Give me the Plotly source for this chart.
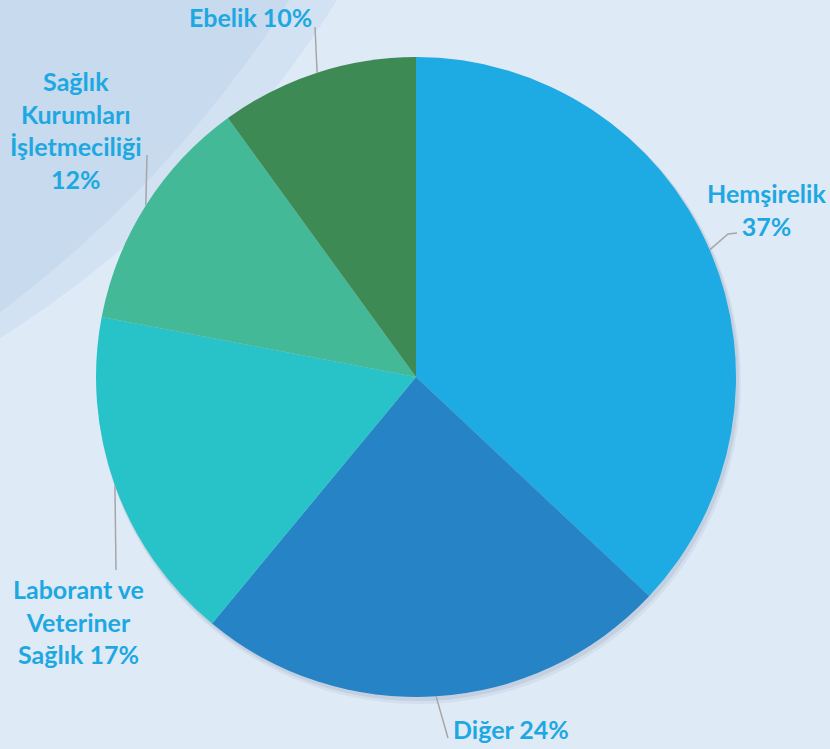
import math
import plotly.graph_objects as go

# Distribution of graduates by programme (percent)
categories = ["Hemşirelik", "Diğer", "Laborant ve Veteriner Sağlık",
              "Sağlık Kurumları İşletmeciliği", "Ebelik"]
shares = [37, 24, 17, 12, 10]
label_texts = ["Hemşirelik<br>37%", "Diğer 24%", "Laborant ve<br>Veteriner<br>Sağlık 17%",
               "Sağlık<br>Kurumları<br>İşletmeciliği<br>12%", "Ebelik 10%"]
slice_colors = ["#1eaae2", "#2683c6", "#27c3c9", "#44b997", "#3e8a54"]

# Canvas and pie geometry (pixels)
W, H = 830, 749
CX, CY, R = 416, 377, 320

# Label placement: text centre and leader-line outer points (pixels)
label_centres = [(766, 209), (511, 729), (78, 621), (76, 130), (250, 17)]
leader_tails = [[(728, 234), (737, 233)], [(448, 738)], [(116, 570)],
                [(147, 155)], [(315, 27)]]

TEXT_COLOR = "#1ea8e2"
LEADER_COLOR = "#a6a6a6"


def px(x):
    return x / W


def py(y):
    return 1 - y / H


def circle(a, b, r, **kw):
    return dict(type="circle", xref="paper", yref="paper",
                x0=px(a - r), x1=px(a + r), y0=py(b + r), y1=py(b - r),
                layer="below", **kw)


fig = go.Figure(go.Pie(
    labels=categories,
    values=shares,
    sort=False,
    direction="clockwise",
    rotation=0,
    marker=dict(colors=slice_colors, line=dict(width=0)),
    textinfo="none",
    hoverinfo="label+percent",
    showlegend=False,
    domain=dict(x=[px(CX - R), px(CX + R)], y=[py(CY + R), py(CY - R)]),
))

shapes = [
    # decorative swooshes in the upper-left corner
    circle(-576, -573, 1078, fillcolor="#d2e2f3", line=dict(width=0)),
    circle(-718, -643, 1195, fillcolor="#c7daee", line=dict(width=0)),
    # soft drop shadow under the pie
    circle(CX + 3, CY + 5, R + 2, fillcolor="rgba(60,80,110,0.07)", line=dict(width=0)),
    circle(CX + 2, CY + 3, R + 1, fillcolor="rgba(60,80,110,0.10)", line=dict(width=0)),
]

annotations = []
total = sum(shares)
cum = 0
for i, v in enumerate(shares):
    mid = (cum + v / 2) / total * 2 * math.pi
    cum += v
    ex = CX + R * math.sin(mid)
    ey = CY - R * math.cos(mid)
    pts = [(ex, ey)] + leader_tails[i]
    path = "M " + " L ".join(f"{px(x):.5f},{py(y):.5f}" for x, y in pts)
    shapes.append(dict(type="path", xref="paper", yref="paper", path=path,
                       line=dict(color=LEADER_COLOR, width=1.5), layer="above"))
    lx, ly = label_centres[i]
    annotations.append(dict(
        x=px(lx), y=py(ly), xref="paper", yref="paper",
        text=f"<b>{label_texts[i]}</b>", showarrow=False,
        xanchor="center", yanchor="middle", align="center",
        font=dict(family="Lato", size=25, color=TEXT_COLOR),
    ))

fig.update_layout(
    width=W, height=H,
    margin=dict(l=0, r=0, t=0, b=0),
    paper_bgcolor="#dfeaf7",
    plot_bgcolor="#dfeaf7",
    shapes=shapes,
    annotations=annotations,
)

fig.write_html("out.html")
